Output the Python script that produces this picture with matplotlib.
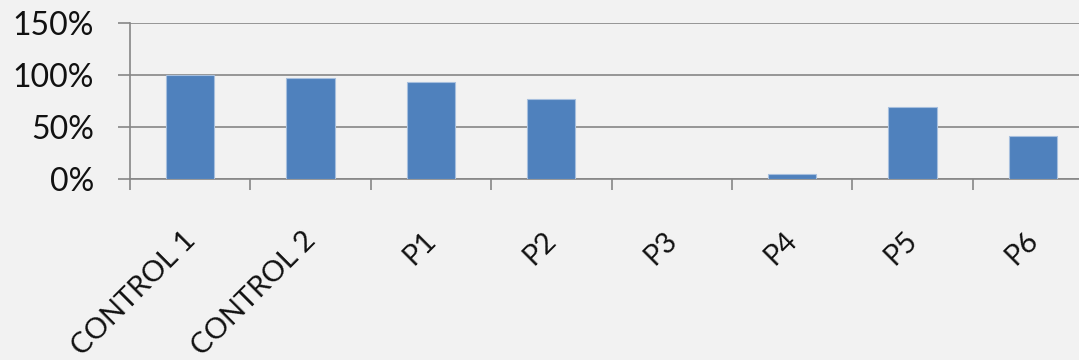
import matplotlib
matplotlib.use("Agg")
import matplotlib.pyplot as plt
from matplotlib.transforms import ScaledTranslation
import numpy as np

categories = ["CONTROL 1", "CONTROL 2", "P1", "P2", "P3", "P4", "P5", "P6"]
values = [100, 96.8, 93, 76.6, 0, 4.5, 69.5, 41]
y_ticks = [0, 50, 100, 150]
y_tick_labels = ["0%", "50%", "100%", "150%"]

BG = "#F2F2F2"
BAR = "#4F81BD"
GRID = "#868686"

W, H = 1079, 360
fig = plt.figure(figsize=(W / 100, H / 100), dpi=100, facecolor=BG)
left, right, bottom, top = 130, 1093, 179, 23
ax = fig.add_axes([left / W, 1 - bottom / H, (right - left) / W, (bottom - top) / H])
ax.set_facecolor(BG)

x = np.arange(len(categories))
ax.bar(x, values, width=0.40, color=BAR, edgecolor="#A7BFDE", linewidth=0.8, zorder=3)

ax.set_xlim(-0.5, len(categories) - 0.5)
ax.set_ylim(0, 150)

# horizontal gridlines, with outward ticks of the same colour
ax.set_yticks(y_ticks)
ax.set_yticklabels(y_tick_labels, fontsize=23, family="Lato", color="#111111")
ax.yaxis.grid(True, color=GRID, linewidth=1.2, zorder=0)
ax.tick_params(axis="y", length=9, width=1.2, color=GRID, pad=17)

# category boundaries as ticks, labels centred on the bars
ax.set_xticks(np.arange(len(categories) + 1) - 0.5)
ax.set_xticklabels([])
ax.tick_params(axis="x", length=8, width=1.2, color=GRID, direction="out")

offset = ScaledTranslation(1 / 100, -57 / 100, fig.dpi_scale_trans)
for xi, name in zip(x, categories):
    ax.text(xi, 0, name, transform=ax.get_xaxis_transform() + offset,
            rotation=45, rotation_mode="anchor", ha="right", va="center",
            fontsize=21, family="Lato", color="#111111")

for side in ["top", "right"]:
    ax.spines[side].set_visible(False)
for side in ["left", "bottom"]:
    ax.spines[side].set_color(GRID)
    ax.spines[side].set_linewidth(1.2)
ax.set_axisbelow(True)

fig.savefig("out.png", dpi=100, facecolor=BG)
